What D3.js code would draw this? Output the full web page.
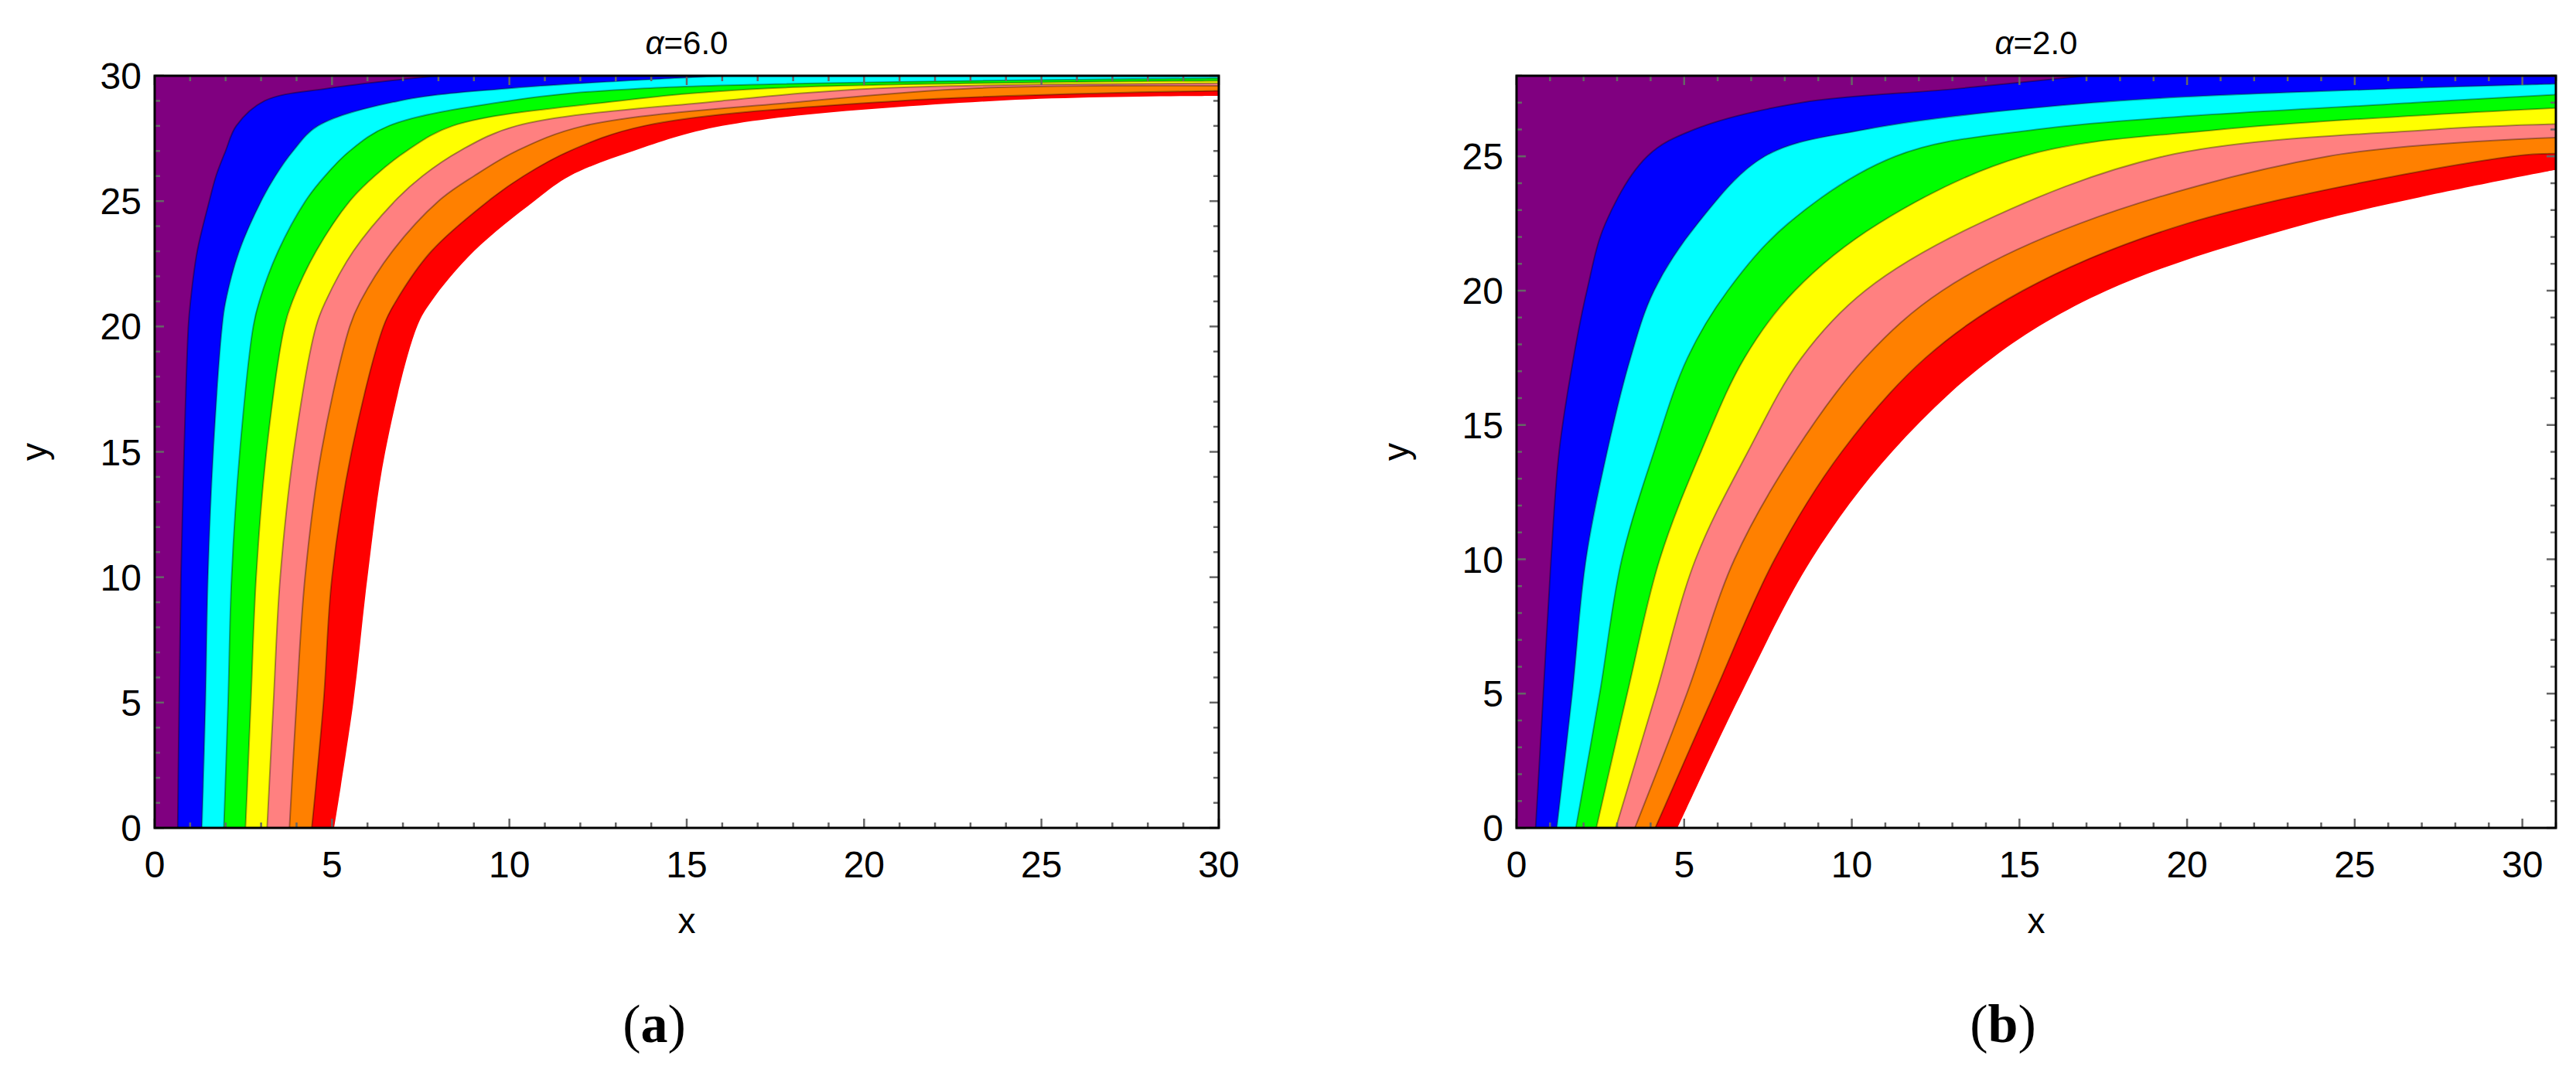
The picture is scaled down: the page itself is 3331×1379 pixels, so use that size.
<!DOCTYPE html>
<html><head><meta charset="utf-8">
<script src="https://cdn.jsdelivr.net/npm/d3@7"></script>
<style>body{margin:0;background:#fff}</style></head>
<body><svg id="c" width="3331" height="1379"></svg>
<script>
const bandColors = ["#800080","#0000ff","#00ffff","#00ff00","#ffff00","#ff8080","#ff8000","#ff0000"];
// boundaries (x,y): purple|blue, blue|cyan, cyan|green, green|yellow, yellow|pink, pink|orange, orange|red, red|white
const yA = [0,5,10,15,20,21,23,25,26,27,28,29,29.5];
const boundA = [
 [0.65,0.69,0.74,0.83,0.95,1.01,1.2,1.54,1.73,2.0,2.3,3.1,4.9],
 [1.33,1.43,1.5,1.65,1.9,2.0,2.38,3.0,3.4,3.9,4.6,6.9,10],
 [1.95,2.07,2.17,2.4,2.78,2.95,3.48,4.25,4.8,5.5,6.6,10.0,13.8],
 [2.56,2.71,2.86,3.15,3.66,3.88,4.55,5.5,6.2,7.1,8.4,13.1,17.3],
 [3.17,3.35,3.54,3.92,4.55,4.82,5.6,6.77,7.55,8.6,10.2,16.0,20.4],
 [3.8,4.0,4.24,4.7,5.5,5.8,6.7,8.0,9.0,10.2,12.1,18.5,23.1],
 [4.43,4.76,5.0,5.55,6.45,6.8,7.8,9.4,10.4,11.7,13.8,21.0],
 [5.06,5.6,6.0,6.5,7.4,7.8,9.0,10.7,11.7,13.5,16.0,23.7]
];
const endA = [[8,30],[16,30],[30,29.9],[30,29.8],[30,29.7],[30,29.6],[30,29.4],[30,29.2]];
const yB = [0,5,10,14,17.5,20,22.5,25,26,27,27.5];
const boundB = [
 [0.57,0.8,1.03,1.27,1.7,2.1,2.65,3.9,5.3,8.5,13.0],
 [1.2,1.66,2.07,2.7,3.4,4.1,5.4,7.4,10.4,17.2,25.7],
 [1.77,2.48,3.14,4.1,5.1,6.3,8.1,11.3,15.5,26.8],
 [2.38,3.3,4.27,5.5,6.8,8.3,10.8,15.1,21],
 [2.96,4.16,5.34,6.9,8.5,10.4,13.8,19.3,27.4],
 [3.53,5.08,6.5,8.3,10.4,12.7,16.8,24.2],
 [4.14,5.9,7.7,9.7,12.2,15.1,20.0,29.7],
 [4.8,6.7,8.8,11.2,14.2,17.6,23.6]
];
const endB = [[17,28],[31,27.7],[31,27.3],[31,26.8],[31,26.2],[31,25.7],[31,25.1],[31,24.5]];
const ticksA = [0,5,10,15,20,25,30];
const ticksBx = [0,5,10,15,20,25,30];
const ticksBy = [0,5,10,15,20,25];

const svg = d3.select("#c");
const font = "'Liberation Sans', Arial, sans-serif";

function panel(o){
  const x = d3.scaleLinear().domain([0,o.xmax]).range([o.l,o.r]);
  const y = d3.scaleLinear().domain([0,o.ymax]).range([o.b,o.t]);
  const g = svg.append("g");
  const cid = "clip"+o.l;
  g.append("clipPath").attr("id",cid).append("rect").attr("x",o.l).attr("y",o.t).attr("width",o.r-o.l).attr("height",o.b-o.t);
  const gp = g.append("g").attr("clip-path",`url(#${cid})`);
  const line = d3.line().x(d=>x(d[0])).y(d=>y(d[1])).curve(d3.curveCatmullRom.alpha(0.5));
  const curves = o.bounds.map((arr,i)=>{const pts=arr.map((v,j)=>[v,o.ys[j]]); pts.push(o.ends[i]); return pts;});
  for(let i=7;i>=0;i--){
    const pts = curves[i];
    const d = line(pts) + `L${x(o.xmax)},${y(o.ymax)}L${x(0)},${y(o.ymax)}L${x(0)},${y(0)}Z`;
    gp.append("path").attr("d",d).attr("fill",bandColors[i]);
  }
  curves.forEach((pts,i)=>{ if(i<7) gp.append("path").attr("d",line(pts)).attr("fill","none").attr("stroke","rgba(0,0,0,0.35)").attr("stroke-width",2);});
  const tk = g.append("g").attr("stroke","#666").attr("stroke-width",2.5);
  for(let v=0; v<=o.xmax; v++){const L=v%5===0?12:7;
    tk.append("line").attr("x1",x(v)).attr("x2",x(v)).attr("y1",o.b).attr("y2",o.b-L);
    tk.append("line").attr("x1",x(v)).attr("x2",x(v)).attr("y1",o.t).attr("y2",o.t+L);}
  for(let v=0; v<=o.ymax; v++){const L=v%5===0?12:7;
    tk.append("line").attr("y1",y(v)).attr("y2",y(v)).attr("x1",o.l).attr("x2",o.l+L);
    tk.append("line").attr("y1",y(v)).attr("y2",y(v)).attr("x1",o.r).attr("x2",o.r-L);}
  g.append("rect").attr("x",o.l).attr("y",o.t).attr("width",o.r-o.l).attr("height",o.b-o.t).attr("fill","none").attr("stroke","#000").attr("stroke-width",3);
  o.xt.forEach(v=>g.append("text").attr("x",x(v)).attr("y",o.b+64).attr("text-anchor","middle").attr("font-family",font).attr("font-size",48).text(v));
  o.yt.forEach(v=>g.append("text").attr("x",o.l-17).attr("y",y(v)+17).attr("text-anchor","end").attr("font-family",font).attr("font-size",48).text(v));
  g.append("text").attr("x",(o.l+o.r)/2).attr("y",o.b+136).attr("text-anchor","middle").attr("font-family",font).attr("font-size",46).text("x");
  g.append("text").attr("transform",`translate(${o.l-140},${(o.t+o.b)/2}) rotate(-90)`).attr("text-anchor","middle").attr("font-family",font).attr("font-size",46).text("y");
  const tt = g.append("text").attr("x",(o.l+o.r)/2).attr("y",70).attr("text-anchor","middle").attr("font-family",font).attr("font-size",42);
  tt.append("tspan").attr("font-style","italic").text("α");
  tt.append("tspan").text(o.title);
  const lb = g.append("text").attr("x",o.lx).attr("y",1348).attr("text-anchor","middle").attr("font-family","'Liberation Serif', serif").attr("font-size",70);
  lb.append("tspan").text("(");
  lb.append("tspan").attr("font-weight","bold").text(o.lab);
  lb.append("tspan").text(")");
}
panel({l:200,r:1576,t:98,b:1071,xmax:30,ymax:30,ys:yA,bounds:boundA,ends:endA,xt:ticksA,yt:ticksA,title:"=6.0",lab:"a",lx:846});
panel({l:1961,r:3305,t:98,b:1071,xmax:31,ymax:28,ys:yB,bounds:boundB,ends:endB,xt:ticksBx,yt:ticksBy,title:"=2.0",lab:"b",lx:2590});
</script></body></html>
